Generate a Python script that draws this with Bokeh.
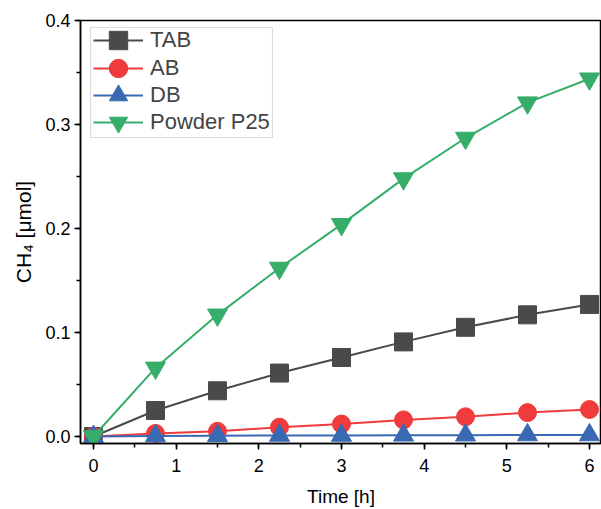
from bokeh.plotting import figure
from bokeh.models import Range1d, SingleIntervalTicker, NumeralTickFormatter, Legend, LegendItem, BoxAnnotation
from bokeh.embed import file_html
from bokeh.resources import INLINE

time_h = [0, 0.75, 1.5, 2.25, 3, 3.75, 4.5, 5.25, 6]
tab = [0, 0.025, 0.044, 0.061, 0.076, 0.091, 0.105, 0.117, 0.127]
ab = [0, 0.003, 0.005, 0.009, 0.012, 0.016, 0.019, 0.023, 0.026]
db = [0, 0.0005, 0.0008, 0.001, 0.001, 0.0012, 0.0013, 0.0015, 0.0015]
p25 = [0, 0.066, 0.117, 0.162, 0.204, 0.248, 0.287, 0.321, 0.344]

FONT = "Liberation Sans"
FRAME_W, FRAME_H = 521, 423

p = figure(frame_width=FRAME_W, frame_height=FRAME_H, output_backend="svg", toolbar_location=None,
           x_range=Range1d(-0.157, 6.145), y_range=Range1d(-0.0067, 0.4),
           min_border_left=80, min_border_right=0, min_border_top=20, min_border_bottom=66)
p.grid.visible = False
p.background_fill_color = "white"
p.border_fill_color = "white"
p.outline_line_color = "black"
p.outline_line_width = 1.5

p.xaxis.ticker = SingleIntervalTicker(interval=1, num_minor_ticks=2)
p.yaxis.ticker = SingleIntervalTicker(interval=0.1, num_minor_ticks=2)
p.yaxis.formatter = NumeralTickFormatter(format="0.0")
for ax in (p.xaxis, p.yaxis):
    ax.axis_line_width = 1.5
    ax.axis_line_color = "black"
    ax.major_tick_line_width = 1.5
    ax.minor_tick_line_width = 1.5
    ax.major_tick_out = 6
    ax.major_tick_in = 0
    ax.minor_tick_out = 4
    ax.minor_tick_in = 0
    ax.major_label_text_font = FONT
    ax.major_label_text_font_size = "18px"
    ax.major_label_text_color = "black"
    ax.axis_label_text_font = FONT
    ax.axis_label_text_font_style = "normal"
    ax.axis_label_text_color = "black"
p.xaxis.axis_label = "Time [h]"
p.yaxis.axis_label = "CH\u2084 [\u03bcmol]"
p.xaxis.axis_label_text_font_size = "19px"
p.yaxis.axis_label_text_font_size = "21px"
p.xaxis.major_label_standoff = 9
p.xaxis.axis_label_standoff = 11
p.yaxis.major_label_standoff = 4
p.yaxis.axis_label_standoff = 7

series = [
    ("TAB", tab, "#4a4a4a", "square", 18),
    ("AB", ab, "#ef3b3b", "circle", 18),
    ("DB", db, "#3a69b3", "triangle", 20),
    ("Powder P25", p25, "#36ad69", "inverted_triangle", 20),
]
renderers = []
for name, ys, color, marker, size in series:
    l = p.line(time_h, ys, line_color=color, line_width=2)
    m = p.scatter(time_h, ys, marker=marker, size=size, fill_color=color, line_color=color)
    renderers.append((name, l, m))

# one single-item legend per row so that rows can sit closer than the glyph height
GH = 46
row_centers = [20, 48, 75, 102]  # px below frame top
for (name, l, m), c in zip(renderers, row_centers):
    lg = Legend(items=[LegendItem(label=name, renderers=[l, m])],
                location=(13, FRAME_H - c - GH // 2))
    lg.label_text_font = FONT
    lg.label_text_font_size = "22px"
    lg.glyph_width = 50
    lg.glyph_height = GH
    lg.padding = 0
    lg.margin = 0
    lg.spacing = 0
    lg.label_standoff = 7
    lg.border_line_color = None
    lg.background_fill_alpha = 0
    p.add_layout(lg)

box = BoxAnnotation(left=10, right=192, top=FRAME_H - 7, bottom=FRAME_H - 117,
                    left_units="screen", right_units="screen", top_units="screen", bottom_units="screen",
                    fill_alpha=0, line_color="#8c8c8c", line_width=1.2)
p.add_layout(box)

open("out.html", "w").write(file_html(p, INLINE))
